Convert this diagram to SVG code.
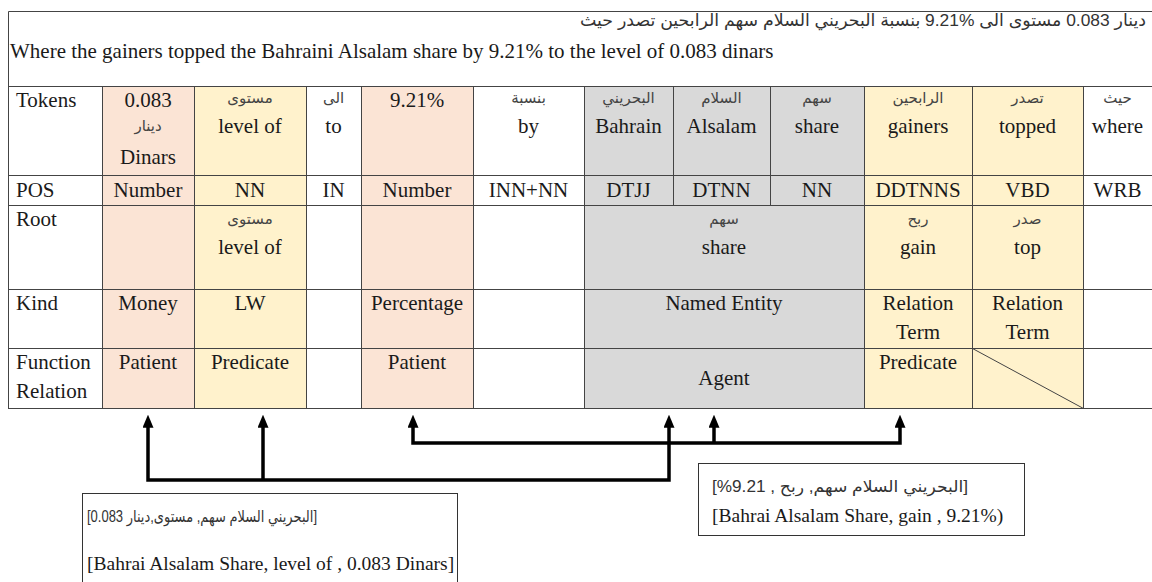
<svg xmlns="http://www.w3.org/2000/svg" width="1152" height="582" viewBox="0 0 1152 582">
<defs>
<style>
.en{font-family:"Liberation Serif","Times New Roman",serif;font-size:21px;fill:#1a1a1a}
.enc{font-family:"Liberation Serif","Times New Roman",serif;font-size:21px;fill:#1a1a1a;text-anchor:middle}
.bx{font-family:"Liberation Serif","Times New Roman",serif;font-size:19.5px;fill:#1a1a1a}
.ar{font-family:"Liberation Sans","DejaVu Sans",sans-serif;font-size:15px;fill:#444;text-anchor:middle}
.arh{font-family:"Liberation Sans","DejaVu Sans",sans-serif;font-size:17px;fill:#333}
.arb{font-family:"Liberation Sans","DejaVu Sans",sans-serif;font-size:16px;fill:#333}
.grid{stroke:#444;stroke-width:1;fill:none}
.pink{fill:#fbe4d5}
.yel{fill:#fff2cc}
.gray{fill:#d9d9d9}
.conn{stroke:#000;stroke-width:3.5;fill:none;stroke-linejoin:miter}
.box{fill:#fff;stroke:#333;stroke-width:1}
</style>
<marker id="ah" viewBox="0 0 10 10" refX="0.5" refY="5" markerWidth="13" markerHeight="11" markerUnits="userSpaceOnUse" orient="auto-start-reverse" preserveAspectRatio="none">
<path d="M0,0 L10,5 L0,10 z" fill="#000"/>
</marker>
</defs>
<rect width="1152" height="582" fill="#fff"/>

<g id="header">
<path class="grid" d="M8.5,11.5 H1152 M8.5,11.5 V86"/>
<text class="arh" x="1146" y="26" text-anchor="end" textLength="566" lengthAdjust="spacingAndGlyphs">دينار  0.083 مستوى الى %9.21 بنسبة البحريني السلام سهم الرابحين تصدر حيث</text>
<text class="en" x="10" y="58">Where the gainers topped the Bahraini Alsalam share by 9.21% to the level of 0.083 dinars</text>
</g>

<g id="table">
<g id="fills">
<rect class="pink" x="102" y="86" width="92" height="322"/>
<rect class="yel" x="194" y="86" width="112" height="322"/>
<rect class="pink" x="361" y="86" width="112" height="322"/>
<rect class="gray" x="584" y="86" width="280" height="322"/>
<rect class="yel" x="864" y="86" width="219" height="322"/>
</g>
<path class="grid" d="M8,86.5 H1152 M8,175.5 H1152 M8,205.5 H1152 M8,289.5 H1152 M8,348.5 H1152 M8,408.5 H1152
M8.5,86 V409 M102.5,86 V409 M194.5,86 V409 M306.5,86 V409 M361.5,86 V409 M473.5,86 V409 M584.5,86 V409
M673.5,86 V205 M770.5,86 V205 M864.5,86 V409 M972.5,86 V409 M1083.5,86 V409 M972.5,348.5 L1083.5,408.5"/>

<g id="labels">
<text class="en" x="16" y="107">Tokens</text>
<text class="en" x="16" y="197">POS</text>
<text class="en" x="16" y="226">Root</text>
<text class="en" x="16" y="310">Kind</text>
<text class="en" x="16" y="369">Function</text>
<text class="en" x="16" y="398">Relation</text>
</g>

<g id="col-dinars">
<text class="enc" x="148" y="107">0.083</text>
<text class="ar" x="148" y="131">دينار</text>
<text class="enc" x="148" y="164">Dinars</text>
<text class="enc" x="148" y="197">Number</text>
<text class="enc" x="148" y="310">Money</text>
<text class="enc" x="148" y="369">Patient</text>
</g>
<g id="col-level">
<text class="ar" x="250" y="103">مستوى</text>
<text class="enc" x="250" y="133">level of</text>
<text class="enc" x="250" y="197">NN</text>
<text class="ar" x="250" y="224">مستوى</text>
<text class="enc" x="250" y="254">level of</text>
<text class="enc" x="250" y="310">LW</text>
<text class="enc" x="250" y="369">Predicate</text>
</g>
<g id="col-to">
<text class="ar" x="333.5" y="103">الى</text>
<text class="enc" x="333.5" y="133">to</text>
<text class="enc" x="333.5" y="197">IN</text>
</g>
<g id="col-percent">
<text class="enc" x="417" y="107">9.21%</text>
<text class="enc" x="417" y="197">Number</text>
<text class="enc" x="417" y="310">Percentage</text>
<text class="enc" x="417" y="369">Patient</text>
</g>
<g id="col-by">
<text class="ar" x="528.5" y="103">بنسبة</text>
<text class="enc" x="528.5" y="133">by</text>
<text class="enc" x="528.5" y="197">INN+NN</text>
</g>
<g id="col-entity">
<text class="ar" x="628.5" y="103">البحريني</text>
<text class="enc" x="628.5" y="133">Bahrain</text>
<text class="enc" x="628.5" y="197">DTJJ</text>
<text class="ar" x="721.5" y="103">السلام</text>
<text class="enc" x="721.5" y="133">Alsalam</text>
<text class="enc" x="721.5" y="197">DTNN</text>
<text class="ar" x="817" y="103">سهم</text>
<text class="enc" x="817" y="133">share</text>
<text class="enc" x="817" y="197">NN</text>
<text class="ar" x="724" y="224">سهم</text>
<text class="enc" x="724" y="254">share</text>
<text class="enc" x="724" y="310">Named Entity</text>
<text class="enc" x="724" y="385">Agent</text>
</g>
<g id="col-gainers">
<text class="ar" x="918" y="103">الرابحين</text>
<text class="enc" x="918" y="133">gainers</text>
<text class="enc" x="918" y="197">DDTNNS</text>
<text class="ar" x="918" y="224">ربح</text>
<text class="enc" x="918" y="254">gain</text>
<text class="enc" x="918" y="310">Relation</text>
<text class="enc" x="918" y="339">Term</text>
<text class="enc" x="918" y="369">Predicate</text>
</g>
<g id="col-topped">
<text class="ar" x="1027.5" y="103">تصدر</text>
<text class="enc" x="1027.5" y="133">topped</text>
<text class="enc" x="1027.5" y="197">VBD</text>
<text class="ar" x="1027.5" y="224">صدر</text>
<text class="enc" x="1027.5" y="254">top</text>
<text class="enc" x="1027.5" y="310">Relation</text>
<text class="enc" x="1027.5" y="339">Term</text>
</g>
<g id="col-where">
<text class="ar" x="1117.5" y="103">حيث</text>
<text class="enc" x="1117.5" y="133">where</text>
<text class="enc" x="1117.5" y="197">WRB</text>
</g>
</g>

<g id="connectors">
<path class="conn" d="M148,427 V480 H669 V427" marker-start="url(#ah)" marker-end="url(#ah)"/>
<path class="conn" d="M263,480 V427" marker-end="url(#ah)"/>
<path class="conn" d="M413,427 V443 H900 V427" marker-start="url(#ah)" marker-end="url(#ah)"/>
<path class="conn" d="M714,443 V427" marker-end="url(#ah)"/>
</g>

<g id="box-level">
<rect class="box" x="82.5" y="493.5" width="375" height="100"/>
<text class="arb" x="87" y="522" textLength="230" lengthAdjust="spacingAndGlyphs">[البحريني السلام سهم, مستوى,دينار 0.083]</text>
<text class="bx" x="87" y="570">[Bahrai Alsalam Share, level of , 0.083 Dinars]</text>
</g>

<g id="box-gain">
<rect class="box" x="698.5" y="463.5" width="326" height="72"/>
<text class="arb" x="712" y="492" textLength="256" lengthAdjust="spacingAndGlyphs">[%9.21 , البحريني السلام سهم, ربح]</text>
<text class="bx" x="712" y="522">[Bahrai Alsalam Share, gain , 9.21%)</text>
</g>
</svg>
